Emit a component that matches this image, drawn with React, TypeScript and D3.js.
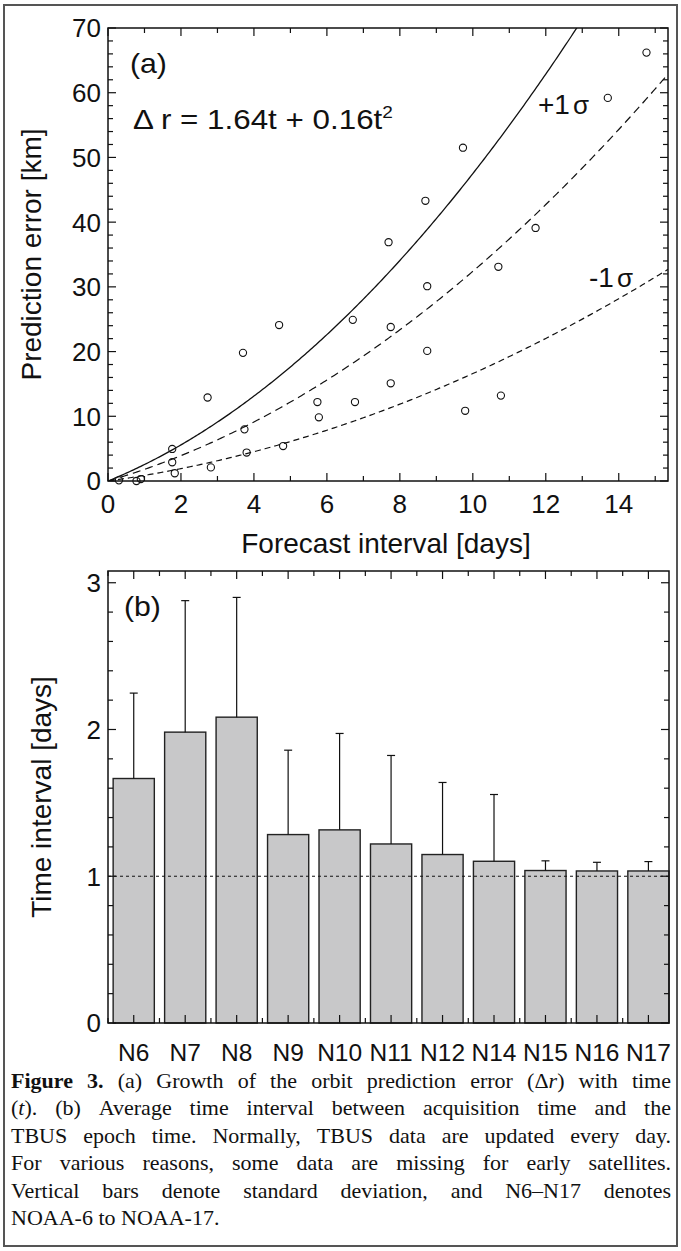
import React, { useEffect, useRef } from "react";
import * as d3 from "d3";

const WIDTH = 681;
const HEIGHT = 1251;
const SANS = "'Liberation Sans', Arial, Helvetica, sans-serif";
const SERIF = "'Liberation Serif', 'Times New Roman', serif";

// ---- panel (a): orbit prediction error vs forecast interval ----
const forecastDays = [
  14.76, 13.7, 9.73, 8.7, 11.72, 7.69, 10.7, 8.75, 6.71, 4.69, 7.75, 8.75, 3.7, 7.75, 10.77,
  2.73, 5.74, 6.77, 9.79, 5.78, 3.74, 4.8, 1.76, 3.8, 1.76, 2.82, 1.83, 0.3, 0.78, 0.9,
];
const predictionErrorKm = [
  66.2, 59.2, 51.5, 43.3, 39.1, 36.9, 33.1, 30.1, 24.9, 24.1, 23.8, 20.1, 19.8, 15.1, 13.2,
  12.9, 12.2, 12.2, 10.85, 9.84, 7.98, 5.4, 4.95, 4.4, 2.9, 2.1, 1.2, 0.1, 0.0, 0.3,
];
// Quadratic curves Δr = a·t + b·t², stored as [a, b]
const fitCoef = [1.64, 0.16];
const plusSigmaCoef = [2.3, 0.245];
const minusSigmaCoef = [0.78, 0.088];
const xTicksA = [0, 2, 4, 6, 8, 10, 12, 14];
const yTicksA = [0, 10, 20, 30, 40, 50, 60, 70];

// ---- panel (b): mean TBUS age per satellite ----
const satellites = ["N6", "N7", "N8", "N9", "N10", "N11", "N12", "N14", "N15", "N16", "N17"];
const meanInterval = [1.666, 1.982, 2.084, 1.284, 1.316, 1.22, 1.148, 1.102, 1.039, 1.036, 1.036];
const stdInterval = [0.582, 0.896, 0.816, 0.575, 0.657, 0.603, 0.491, 0.455, 0.066, 0.059, 0.064];
const yTicksB = [0, 1, 2, 3];

const captionLines = [
  "**Figure 3.** (a) Growth of the orbit prediction error (Δ_r_) with time",
  "(_t_). (b) Average time interval between acquisition time and the",
  "TBUS epoch time. Normally, TBUS data are updated every day.",
  "For various reasons, some data are missing for early satellites.",
  "Vertical bars denote standard deviation, and N6–N17 denotes",
  "NOAA-6 to NOAA-17.",
];

type Seg = { t: string; s: string };

function parseLine(line: string): Seg[][] {
  const segs: Seg[] = [];
  const re = /\*\*(.+?)\*\*|_(.+?)_|([^*_]+)/g;
  let m: RegExpExecArray | null;
  while ((m = re.exec(line))) {
    if (m[1] !== undefined) segs.push({ t: m[1], s: "b" });
    else if (m[2] !== undefined) segs.push({ t: m[2], s: "i" });
    else segs.push({ t: m[3], s: "" });
  }
  const words: Seg[][] = [[]];
  segs.forEach((seg) => {
    seg.t.split(" ").forEach((p, i) => {
      if (i > 0) words.push([]);
      if (p) words[words.length - 1].push({ t: p, s: seg.s });
    });
  });
  return words.filter((w) => w.length > 0);
}

function quad(c: number[], t: number) {
  return c[0] * t + c[1] * t * t;
}

export default function App() {
  const capRef = useRef<SVGGElement>(null);

  // panel (a) scales
  const xA = d3.scaleLinear().domain([0, 15.35]).range([108, 668]);
  const yA = d3.scaleLinear().domain([0, 70]).range([481, 28]);
  // panel (b) scales
  const xB = d3.scaleLinear().domain([0.5, 11.4]).range([108, 669]);
  const yB = d3.scaleLinear().domain([0, 3.08]).range([1023, 571]);

  const tSamples = d3.range(0, 15.36, 0.05);
  const curve = (c: number[]) =>
    d3
      .line<number>()
      .x((t) => xA(t))
      .y((t) => yA(quad(c, t)))(tSamples) || "";

  const [ax0, ax1] = xA.range();
  const [ay0, ay1] = yA.range();
  const [bx0, bx1] = xB.range();
  const [by0, by1] = yB.range();

  const majorLen = 8;
  const minorLen = 5;

  // tick collections
  const xMinorA = d3.range(1, 16, 2);
  const yMinorA = d3.range(0, 71, 2).filter((v) => v % 10 !== 0);
  const yMinorB = d3.range(0, 16).filter((i) => i % 5 !== 0).map((i) => i * 0.2);
  const xMajorB = satellites.map((_, i) => i + 1);
  const xMinorB = d3.range(0, 11).map((i) => i + 0.5);

  const barW = xB(1.4) - xB(0.6);

  useEffect(() => {
    const g = d3.select(capRef.current);
    g.selectAll("*").remove();
    const left = 11;
    const right = 671;
    const base0 = 1088;
    const lh = 27.4;
    const fs = 22;
    captionLines.forEach((line, li) => {
      const words = parseLine(line);
      const y = base0 + li * lh;
      const nodes = words.map((w) => {
        const t = g
          .append("text")
          .attr("y", y)
          .attr("font-family", SERIF)
          .attr("font-size", fs)
          .attr("fill", "#111");
        w.forEach((seg) => {
          t.append("tspan")
            .text(seg.t)
            .attr("font-weight", seg.s === "b" ? "bold" : null)
            .attr("font-style", seg.s === "i" ? "italic" : null);
        });
        return t;
      });
      const widths = nodes.map((n) => (n.node() as SVGTextElement).getComputedTextLength());
      const total = d3.sum(widths);
      const justify = li < captionLines.length - 1;
      const gap = justify ? (right - left - total) / (words.length - 1) : fs * 0.25;
      let x = left;
      nodes.forEach((n, i) => {
        n.attr("x", x);
        x += widths[i] + gap;
      });
    });
  }, []);

  return (
    <svg
      width={WIDTH}
      height={HEIGHT}
      viewBox={`0 0 ${WIDTH} ${HEIGHT}`}
      style={{ position: "absolute", left: 0, top: 0, background: "#fff" }}
    >
      <defs>
        <clipPath id="plotA">
          <rect x={ax0} y={ay1} width={ax1 - ax0} height={ay0 - ay1} />
        </clipPath>
      </defs>
      <rect x={0} y={0} width={WIDTH} height={HEIGHT} fill="#fff" />
      {/* outer frame */}
      <rect x={4} y={5} width={673} height={1241} fill="none" stroke="#555" strokeWidth={2} />

      {/* ===== panel (a) ===== */}
      <g clipPath="url(#plotA)" fill="none" stroke="#111">
        <path d={curve(plusSigmaCoef)} strokeWidth={1.3} />
        <path d={curve(fitCoef)} strokeWidth={1.2} strokeDasharray="8,5" />
        <path d={curve(minusSigmaCoef)} strokeWidth={1.2} strokeDasharray="6,4" />
      </g>
      <g fill="none" stroke="#111" strokeWidth={1.1}>
        {forecastDays.map((t, i) => (
          <circle key={i} cx={xA(t)} cy={yA(predictionErrorKm[i])} r={3.6} />
        ))}
      </g>
      <rect x={ax0} y={ay1} width={ax1 - ax0} height={ay0 - ay1} fill="none" stroke="#111" strokeWidth={1.5} />
      <g stroke="#111" strokeWidth={1.2}>
        {xTicksA.map((v) => (
          <g key={"xa" + v}>
            <line x1={xA(v)} x2={xA(v)} y1={ay0} y2={ay0 - majorLen} />
            <line x1={xA(v)} x2={xA(v)} y1={ay1} y2={ay1 + majorLen} />
          </g>
        ))}
        {xMinorA.map((v) => (
          <g key={"xam" + v}>
            <line x1={xA(v)} x2={xA(v)} y1={ay0} y2={ay0 - minorLen} />
            <line x1={xA(v)} x2={xA(v)} y1={ay1} y2={ay1 + minorLen} />
          </g>
        ))}
        {yTicksA.map((v) => (
          <g key={"ya" + v}>
            <line x1={ax0} x2={ax0 + majorLen} y1={yA(v)} y2={yA(v)} />
            <line x1={ax1} x2={ax1 - majorLen} y1={yA(v)} y2={yA(v)} />
          </g>
        ))}
        {yMinorA.map((v) => (
          <g key={"yam" + v}>
            <line x1={ax0} x2={ax0 + minorLen} y1={yA(v)} y2={yA(v)} />
            <line x1={ax1} x2={ax1 - minorLen} y1={yA(v)} y2={yA(v)} />
          </g>
        ))}
      </g>
      <g fontFamily={SANS} fill="#111" fontSize={26}>
        {yTicksA.map((v) => (
          <text key={"yl" + v} x={101} y={yA(v)} dy="0.36em" textAnchor="end">
            {v}
          </text>
        ))}
        {xTicksA.map((v) => (
          <text key={"xl" + v} x={xA(v)} y={513} textAnchor="middle">
            {v}
          </text>
        ))}
        <text x={386} y={553} textAnchor="middle" fontSize={28}>
          Forecast interval [days]
        </text>
        <text transform={`translate(41,${(ay0 + ay1) / 2}) rotate(-90)`} textAnchor="middle" fontSize={28}>
          Prediction error [km]
        </text>
        <text transform="translate(130,73) scale(1.08,1)" fontSize={28}>(a)</text>
        <text transform="translate(133,129) scale(1.12,1)" fontSize={28}>
          Δ r = 1.64t + 0.16t
          <tspan dy={-11} fontSize={17}>2</tspan>
        </text>
        <text x={538} y={114} fontSize={28}>
          +1<tspan dx={3} fontSize={26}>σ</tspan>
        </text>
        <text x={589} y={287} fontSize={28}>
          -1<tspan dx={3} fontSize={26}>σ</tspan>
        </text>
      </g>

      {/* ===== panel (b) ===== */}
      <g>
        {satellites.map((s, i) => (
          <rect
            key={s}
            x={xB(i + 1) - barW / 2}
            y={yB(meanInterval[i])}
            width={barW}
            height={yB(0) - yB(meanInterval[i])}
            fill="#c8c8c9"
            stroke="#222"
            strokeWidth={1.4}
          />
        ))}
      </g>
      <g stroke="#111" strokeWidth={1.2}>
        {satellites.map((s, i) => {
          const top = yB(meanInterval[i] + stdInterval[i]);
          return (
            <g key={"e" + s}>
              <line x1={xB(i + 1)} x2={xB(i + 1)} y1={yB(meanInterval[i])} y2={top} />
              <line x1={xB(i + 1) - 4} x2={xB(i + 1) + 4} y1={top} y2={top} />
            </g>
          );
        })}
      </g>
      <line x1={bx0} x2={bx1} y1={yB(1)} y2={yB(1)} stroke="#111" strokeWidth={1} strokeDasharray="3,3" />
      <rect x={bx0} y={by1} width={bx1 - bx0} height={by0 - by1} fill="none" stroke="#111" strokeWidth={1.5} />
      <g stroke="#111" strokeWidth={1.2}>
        {xMajorB.map((v) => (
          <g key={"xb" + v}>
            <line x1={xB(v)} x2={xB(v)} y1={by0} y2={by0 - majorLen} />
            <line x1={xB(v)} x2={xB(v)} y1={by1} y2={by1 + majorLen} />
          </g>
        ))}
        {xMinorB.map((v) => (
          <g key={"xbm" + v}>
            <line x1={xB(v)} x2={xB(v)} y1={by0} y2={by0 - minorLen} />
            <line x1={xB(v)} x2={xB(v)} y1={by1} y2={by1 + minorLen} />
          </g>
        ))}
        {yTicksB.map((v) => (
          <g key={"yb" + v}>
            <line x1={bx0} x2={bx0 + majorLen} y1={yB(v)} y2={yB(v)} />
            <line x1={bx1} x2={bx1 - majorLen} y1={yB(v)} y2={yB(v)} />
          </g>
        ))}
        {yMinorB.map((v) => (
          <g key={"ybm" + v}>
            <line x1={bx0} x2={bx0 + minorLen} y1={yB(v)} y2={yB(v)} />
            <line x1={bx1} x2={bx1 - minorLen} y1={yB(v)} y2={yB(v)} />
          </g>
        ))}
      </g>
      <g fontFamily={SANS} fill="#111" fontSize={26}>
        {yTicksB.map((v) => (
          <text key={"ybl" + v} x={101} y={yB(v)} dy="0.36em" textAnchor="end">
            {v}
          </text>
        ))}
        {satellites.map((s, i) => (
          <text key={"nl" + s} x={xB(i + 1)} y={1061} textAnchor="middle" fontSize={24.5}>
            {s}
          </text>
        ))}
        <text transform={`translate(51,${(by0 + by1) / 2}) rotate(-90)`} textAnchor="middle" fontSize={28}>
          Time interval [days]
        </text>
        <text transform="translate(124,616) scale(1.08,1)" fontSize={28}>(b)</text>
      </g>

      {/* caption */}
      <g ref={capRef} />
    </svg>
  );
}
